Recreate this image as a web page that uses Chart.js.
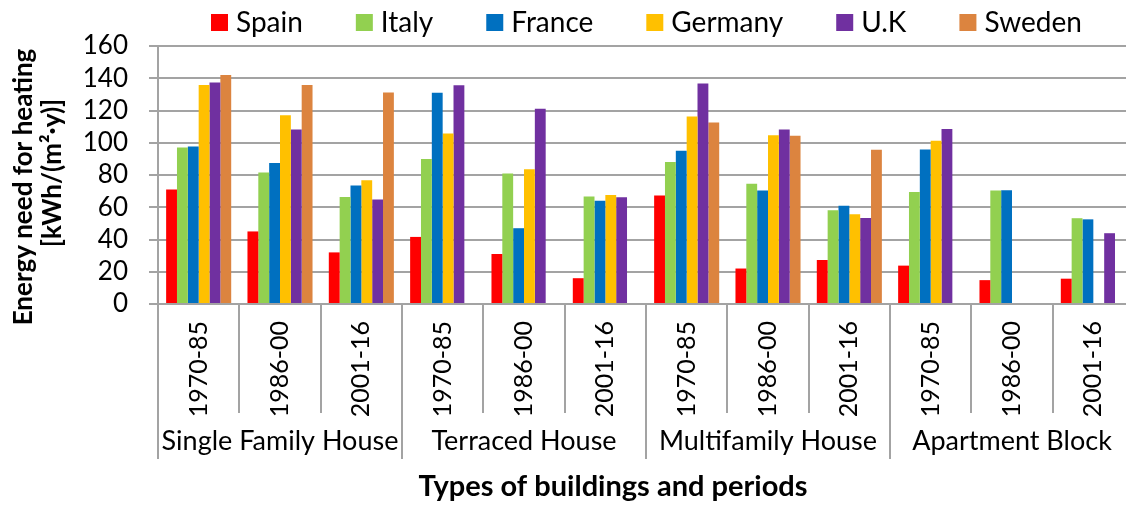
<!DOCTYPE html>
<html>
<head>
<meta charset="utf-8">
<script src="https://cdn.jsdelivr.net/npm/chart.js@4"></script>
<style>
  html, body { margin: 0; padding: 0; background: #fff; overflow: hidden; }
  #chart { display: block; }
</style>
</head>
<body>
<canvas id="chart" width="1134" height="516"></canvas>
<script>
const groups = ["Single Family House", "Terraced House", "Multifamily House", "Apartment Block"];
const periods = ["1970-85", "1986-00", "2001-16"];
const countries = ["Spain", "Italy", "France", "Germany", "U.K", "Sweden"];
const colors = ["#ff0000", "#92d050", "#0070c0", "#ffc000", "#7030a0", "#dc843f"];

// 12 categories: group x period
const spain   = [71, 45, 32, 41.6, 31, 16, 67.3, 22, 27.3, 23.8, 14.8, 15.7];
const italy   = [97, 81.5, 66.4, 90, 81, 66.6, 88, 74.5, 58.1, 69.5, 70.4, 53.2];
const france  = [97.7, 87.5, 73.5, 131, 47, 64, 95, 70.4, 61, 95.8, 70.6, 52.5];
const germany = [135.8, 117.1, 76.8, 105.8, 83.6, 67.6, 116.3, 104.7, 55.7, 101.2, null, null];
const uk      = [137.4, 108.2, 64.8, 135.6, 121.1, 66.2, 136.8, 108.2, 53.4, 108.6, null, 43.9];
const sweden  = [142, 135.8, 131.2, null, null, null, 112.6, 104.3, 95.6, null, null, null];

const yTicks = [0, 20, 40, 60, 80, 100, 120, 140, 160];
const yTitle = ["Energy need for heating", "[kWh/(m\u00b2\u00b7y)]"];
const xTitle = "Types of buildings and periods";

const series = [spain, italy, france, germany, uk, sweden];
const labels = groups.flatMap(() => periods);
const gridColor = "#a3a3a3";
const font = "Lato";

// titles, legend, group labels and the lines under the x axis
const extras = {
  id: "extras",
  afterDraw(chart) {
    const { ctx, chartArea, scales: { x } } = chart;
    const w = x.width / labels.length;
    ctx.save();
    ctx.strokeStyle = gridColor;
    ctx.lineWidth = 2;
    for (let i = 0; i <= labels.length; i++) {
      const px = Math.round(x.left + i * w);
      const end = i % periods.length === 0 ? 459 : 413;
      ctx.beginPath();
      ctx.moveTo(px, chartArea.bottom);
      ctx.lineTo(px, end);
      ctx.stroke();
    }

    ctx.fillStyle = "#000";
    ctx.textAlign = "center";
    ctx.textBaseline = "alphabetic";
    ctx.font = "27px " + font;
    groups.forEach((g, gi) => {
      const cx = x.left + (gi + 0.5) * w * periods.length;
      ctx.fillText(g, cx, 450);
    });

    ctx.font = "bold 29px " + font;
    ctx.fillText(xTitle, 613, 496);

    // y title, two lines reading upward
    ctx.font = "bold 26px " + font;
    const lines = [{ x: 32, y: 187 }, { x: 61, y: 173 }];
    yTitle.forEach((t, i) => {
      ctx.save();
      ctx.translate(lines[i].x, lines[i].y);
      ctx.rotate(-Math.PI / 2);
      ctx.fillText(t, 0, 0);
      ctx.restore();
    });

    // legend
    ctx.font = "28px " + font;
    ctx.textAlign = "left";
    ctx.textBaseline = "middle";
    let lx = 211;
    chart.data.datasets.forEach((ds) => {
      ctx.fillStyle = ds.backgroundColor;
      ctx.fillRect(lx, 14, 17, 17);
      ctx.fillStyle = "#000";
      ctx.fillText(ds.label, lx + 25, 23);
      lx += 25 + ctx.measureText(ds.label).width + 53;
    });
    ctx.restore();
  }
};

new Chart(document.getElementById("chart"), {
  type: "bar",
  data: {
    labels: labels,
    datasets: countries.map((c, i) => ({
      label: c,
      data: series[i],
      backgroundColor: colors[i],
      borderWidth: 0,
      categoryPercentage: 0.8,
      barPercentage: 1.0,
    })),
  },
  options: {
    responsive: false,
    animation: false,
    layout: { padding: { top: 46, left: 0, right: 0, bottom: 0 } },
    plugins: {
      legend: { display: false },
      tooltip: { enabled: false },
    },
    scales: {
      x: {
        grid: { display: false },
        border: { display: true, color: gridColor, width: 2 },
        ticks: {
          autoSkip: false,
          minRotation: 90,
          maxRotation: 90,
          padding: 9,
          color: "#000",
          font: { family: font, size: 25 },
        },
        afterFit: (scale) => { scale.height = 212; },
      },
      y: {
        min: 0,
        max: 160,
        afterBuildTicks: (scale) => { scale.ticks = yTicks.map((v) => ({ value: v })); },
        grid: { color: gridColor, lineWidth: 2, tickLength: 9 },
        border: { display: true, color: gridColor, width: 2 },
        ticks: {
          autoSkip: false,
          padding: 21,
          color: "#000",
          font: { family: font, size: 26 },
        },
        afterFit: (scale) => { scale.width = 158; },
      },
    },
  },
  plugins: [extras],
});
</script>
</body>
</html>
